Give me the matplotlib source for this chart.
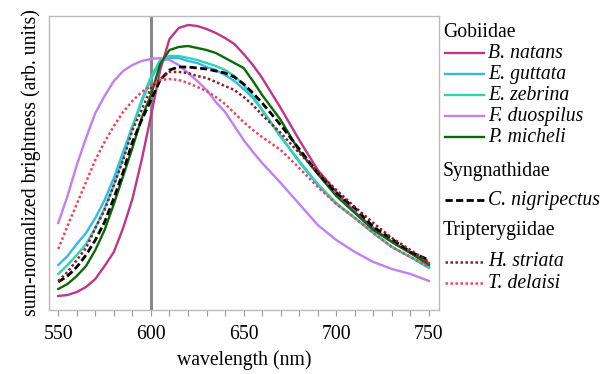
import numpy as np
import matplotlib
matplotlib.use('Agg')
import matplotlib.pyplot as plt

plt.rcParams['font.family'] = ['Liberation Serif', 'DejaVu Serif']

# wavelength grid (nm): 5 nm steps up to 655, then 10 nm
wavelength = [550, 555, 560, 565, 570, 575, 580, 585, 590, 595, 600, 605,
              610, 615, 620, 625, 630, 635, 640, 645, 650, 655,
              660, 670, 680, 690, 700, 710, 720, 730, 740, 750]

# sum-normalized brightness (arb. units)
b_natans = [14, 15, 18, 23, 31, 44, 58, 82, 111, 150, 194, 240,
            271, 282, 285, 284, 281, 277, 272, 266, 256, 245,
            232, 202, 170, 140, 118, 98, 82, 68, 57, 47]
e_guttata = [45, 54, 66, 77, 92, 110, 132, 158, 184, 208, 231, 248,
             252, 252, 249, 247, 243, 240, 235, 229, 221, 212,
             200, 174, 148, 125, 106, 92, 77, 63, 53, 42]
e_zebrina = [36, 45, 55, 66, 82, 102, 125, 152, 182, 210, 233, 250,
             254, 254, 252, 250, 247, 244, 240, 234, 225, 214,
             200, 173, 149, 126, 107, 92, 77, 63, 53, 43]
f_duospilus = [87, 114, 145, 172, 197, 214, 229, 239, 245, 249, 251, 252,
               250, 245, 237, 229, 220, 208, 198, 184, 170, 158,
               147, 127, 106, 85, 70, 58, 48, 41, 36, 29]
p_micheli = [21, 26, 34, 44, 60, 80, 106, 134, 162, 192, 215, 246,
             260, 263, 264, 262, 260, 257, 252, 247, 242, 229,
             215, 190, 159, 136, 114, 97, 80, 68, 57, 45]
c_nigripectus = [28, 34, 43, 55, 70, 88, 112, 138, 168, 190, 210, 230,
                 240, 243, 243, 242, 241, 239, 237, 233, 226, 217,
                 207, 185, 161, 137, 117, 102, 83, 71, 58, 50]
h_striata = [29, 38, 50, 62, 82, 100, 125, 150, 180, 200, 222, 231,
             238, 238, 237, 234, 232, 228, 224, 220, 213, 205,
             195, 177, 157, 138, 120, 103, 87, 72, 60, 48]
t_delaisi = [61, 84, 106, 128, 150, 168, 184, 198, 209, 218, 224, 230,
             231, 230, 227, 223, 219, 213, 206, 197, 188, 180,
             173, 160, 142, 123, 106, 92, 77, 63, 53, 43]

groups = [
    ('Gobiidae', [
        ('B. natans', b_natans, '#c2338a', '-'),
        ('E. guttata', e_guttata, '#33b9ee', '-'),
        ('E. zebrina', e_zebrina, '#2dd4b4', '-'),
        ('F. duospilus', f_duospilus, '#c27ef5', '-'),
        ('P. micheli', p_micheli, '#0a6a0a', '-'),
    ]),
    ('Syngnathidae', [
        ('C. nigripectus', c_nigripectus, 'black', '--'),
    ]),
    ('Tripterygiidae', [
        ('H. striata', h_striata, '#8e1a2e', ':'),
        ('T. delaisi', t_delaisi, '#f04258', ':'),
    ]),
]

DASH = (0, (2.6, 1.2))
DOT = (0, (1, 1))
FS = 14.2


def line_kw(col, ls):
    if ls == '--':
        return dict(color=col, ls=DASH, lw=2.0, zorder=3)
    if ls == ':':
        return dict(color=col, ls=DOT, lw=1.8, zorder=3)
    return dict(color=col, ls='-', lw=1.7, zorder=2)


fig = plt.figure(figsize=(6.12, 3.74), dpi=100)
ax = fig.add_axes([49/612, 1-310/374, 390/612, 294/374])

ax.axvline(600, color='#888888', lw=2.2, zorder=1)

for gname, items in groups:
    for name, vals, col, ls in items:
        ax.plot(wavelength, vals, **line_kw(col, ls))

ax.set_xlim(545, 755.4)
ax.set_ylim(0, 294)
ax.set_yticks([])
ax.set_xticks([550, 600, 650, 700, 750])
ax.set_xticks(np.arange(550, 751, 10), minor=True)
ax.tick_params(axis='x', which='both', direction='out', length=4, width=0.8,
               color='#999999', labelsize=FS, pad=7)
for sp in ax.spines.values():
    sp.set_color('#bbbbbb')
    sp.set_linewidth(1.0)
ax.set_xlabel('wavelength (nm)', fontsize=FS, labelpad=4)
ax.set_ylabel('sum-normalized brightness (arb. units)', fontsize=FS, labelpad=6)

# legend drawn in pixel coordinates of the figure
lax = fig.add_axes([0, 0, 1, 1])
lax.set_xlim(0, 612)
lax.set_ylim(374, 0)
lax.axis('off')

header_y = [32, 171, 230]
item_y = [[53, 74, 95, 116, 137], [200], [262, 283]]
for (gname, items), hy, ys in zip(groups, header_y, item_y):
    lax.text(443, hy, gname, fontsize=FS, va='center', ha='left')
    for (name, vals, col, ls), y in zip(items, ys):
        lax.plot([445, 484], [y, y], **line_kw(col, ls))
        lax.text(488, y, name, fontsize=FS, style='italic', va='center', ha='left')

fig.savefig('out.png', dpi=100)
